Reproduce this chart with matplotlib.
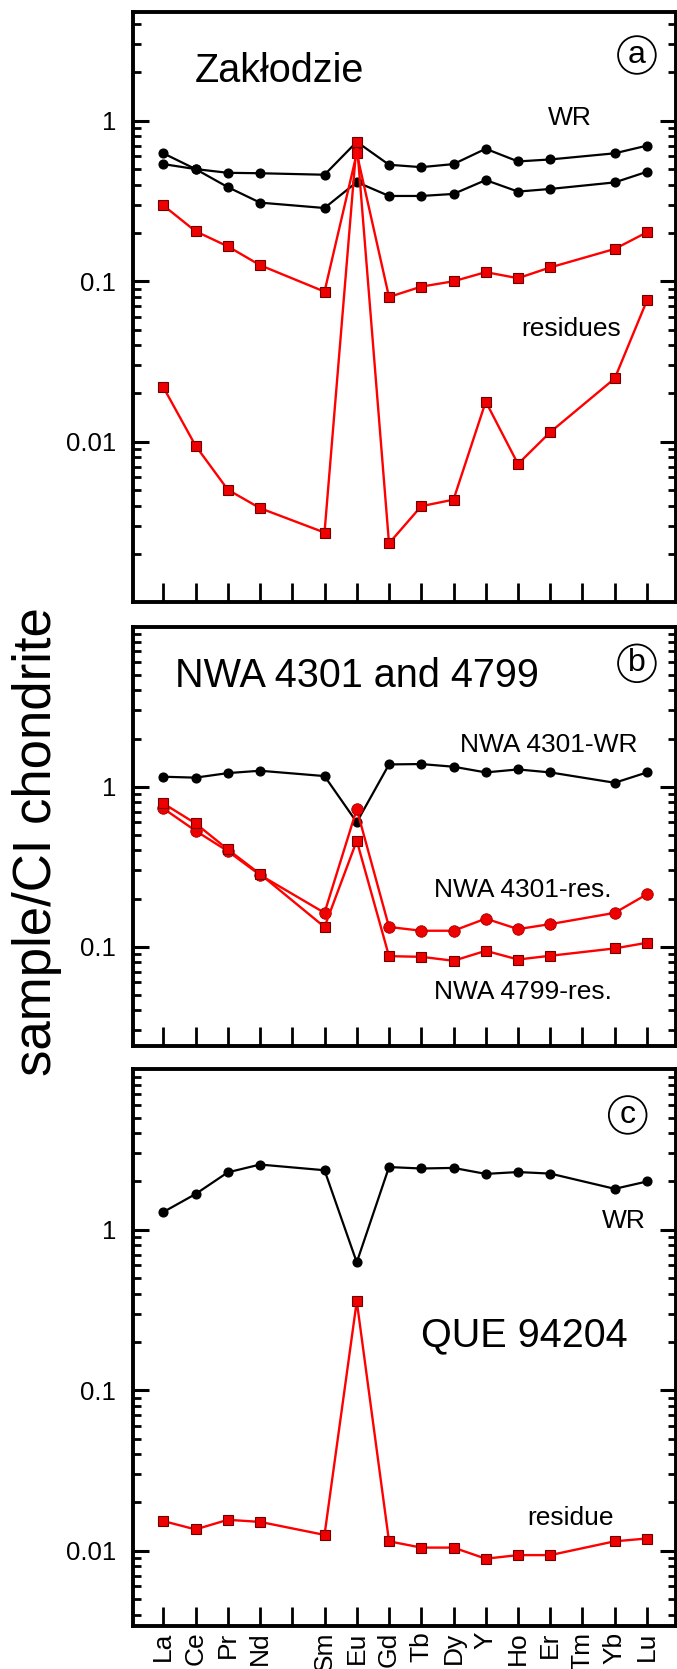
import numpy as np
import matplotlib
matplotlib.use("Agg")
import matplotlib.pyplot as plt
from matplotlib.ticker import LogLocator, NullFormatter, FixedLocator, FixedFormatter

plt.rcParams['font.family'] = ['Liberation Sans', 'DejaVu Sans']

# x axis: REE sequence (Pm left blank, Tm has no data)
tick_labels = ['La', 'Ce', 'Pr', 'Nd', '', 'Sm', 'Eu', 'Gd', 'Tb', 'Dy', 'Y', 'Ho', 'Er', 'Tm', 'Yb', 'Lu']
ree = ['La', 'Ce', 'Pr', 'Nd', 'Sm', 'Eu', 'Gd', 'Tb', 'Dy', 'Y', 'Ho', 'Er', 'Yb', 'Lu']

# (a) Zakłodzie
zak_wr1 = [0.537, 0.50, 0.474, 0.471, 0.461, 0.739, 0.532, 0.514, 0.537, 0.669, 0.558, 0.574, 0.627, 0.70]
zak_wr2 = [0.627, 0.50, 0.386, 0.309, 0.286, 0.415, 0.340, 0.340, 0.350, 0.427, 0.362, 0.376, 0.413, 0.481]
zak_res1 = [0.297, 0.205, 0.165, 0.126, 0.0862, 0.627, 0.0798, 0.0926, 0.100, 0.114, 0.1045, 0.122, 0.159, 0.202]
zak_res2 = [0.0219, 0.00946, 0.00503, 0.00386, 0.00272, 0.739, 0.00233, 0.00397, 0.00436, 0.0178, 0.00727,
            0.01148, 0.0248, 0.0760]

# (b) NWA 4301 and 4799
nwa4301_wr = [1.155, 1.14, 1.217, 1.259, 1.166, 0.60, 1.379, 1.386, 1.334, 1.229, 1.283, 1.229, 1.059, 1.229]
nwa4301_res = [0.732, 0.531, 0.396, 0.281, 0.163, 0.725, 0.133, 0.126, 0.126, 0.150, 0.129, 0.1386, 0.163, 0.213]
nwa4799_res = [0.787, 0.590, 0.406, 0.285, 0.133, 0.460, 0.0874, 0.0866, 0.0818, 0.0944, 0.0833, 0.0879,
               0.0977, 0.106]

# (c) QUE 94204
que_wr = [1.29, 1.67, 2.28, 2.55, 2.35, 0.627, 2.46, 2.41, 2.43, 2.23, 2.29, 2.24, 1.80, 2.0]
que_res = [0.01532, 0.01359, 0.0156, 0.01514, 0.01256, 0.359, 0.01146, 0.01047, 0.01047, 0.00893, 0.0094,
           0.0094, 0.01146, 0.01193]

x = [tick_labels.index(e) for e in ree]

W, H = 677, 1669
fig = plt.figure(figsize=(W / 100, H / 100), dpi=100)

left, right = 133.3, 676.0


def make_axes(top, bottom):
    return fig.add_axes([left / W, 1 - bottom / H, (right - left) / W, (bottom - top) / H])


def style(ax, ylim, yticks, show_x):
    ax.set_yscale('log')
    ax.set_xlim(-0.93, 15.9)
    ax.set_ylim(*ylim)
    ax.yaxis.set_major_locator(FixedLocator(yticks))
    ax.yaxis.set_major_formatter(FixedFormatter([('%g' % t) for t in yticks]))
    ax.yaxis.set_minor_locator(LogLocator(base=10, subs=np.arange(2, 10)))
    ax.yaxis.set_minor_formatter(NullFormatter())
    ax.set_xticks(range(len(tick_labels)))
    if show_x:
        ax.set_xticklabels(tick_labels, rotation=90, fontsize=19, va='top')
    else:
        ax.set_xticklabels([])
    ax.tick_params(axis='y', which='major', direction='in', length=11.5, width=2.2, right=True,
                   labelsize=18.5, pad=12.5)
    ax.tick_params(axis='y', which='minor', direction='in', length=6, width=2.0, right=True)
    ax.tick_params(axis='x', which='major', direction='in', length=13.5, width=2.0, top=False, pad=4)
    for sp in ax.spines.values():
        sp.set_linewidth(2.8)


def black(ax, y):
    ax.plot(x, y, color='black', lw=1.6, marker='o', ms=6.3, mfc='black', mec='black', zorder=3)


def red_sq(ax, y):
    ax.plot(x, y, color='#ff0000', lw=1.7, marker='s', ms=7.3, mfc='#ee0000', mec='#700000', mew=0.8, zorder=4)


def red_ci(ax, y):
    ax.plot(x, y, color='#ff0000', lw=1.7, marker='o', ms=8.3, mfc='#ee0000', mec='#a00000', mew=0.6, zorder=4)


def circled(ax, s, fx, fy):
    ax.text(fx, fy, s, transform=ax.transAxes, fontsize=23, ha='center', va='center',
            bbox=dict(boxstyle='circle,pad=0.12', fc='white', ec='black', lw=1.3))


# panel a
ax1 = make_axes(11.7, 602.3)
style(ax1, (0.001, 4.78), [0.01, 0.1, 1], False)
black(ax1, zak_wr1)
black(ax1, zak_wr2)
red_sq(ax1, zak_res1)
red_sq(ax1, zak_res2)
ax1.text(0.114, 0.8815, 'Zakłodzie', transform=ax1.transAxes, fontsize=28.5, va='baseline')
ax1.text(0.764, 0.808, 'WR', transform=ax1.transAxes, fontsize=19, va='baseline')
ax1.text(0.7144, 0.451, 'residues', transform=ax1.transAxes, fontsize=19, va='baseline')
circled(ax1, 'a', 0.928, 0.9267)

# panel b
ax2 = make_axes(626.7, 1046.0)
style(ax2, (0.024, 10), [0.1, 1], False)
black(ax2, nwa4301_wr)
red_ci(ax2, nwa4301_res)
red_sq(ax2, nwa4799_res)
ax2.text(0.077, 0.857, 'NWA 4301 and 4799', transform=ax2.transAxes, fontsize=28.5, va='baseline')
ax2.text(0.602, 0.701, 'NWA 4301-WR', transform=ax2.transAxes, fontsize=19, va='baseline')
ax2.text(0.554, 0.356, 'NWA 4301-res.', transform=ax2.transAxes, fontsize=19, va='baseline')
ax2.text(0.554, 0.111, 'NWA 4799-res.', transform=ax2.transAxes, fontsize=19, va='baseline')
circled(ax2, 'b', 0.928, 0.9127)

# panel c
ax3 = make_axes(1069.3, 1626.0)
style(ax3, (0.0034, 10), [0.01, 0.1, 1], True)
black(ax3, que_wr)
red_sq(ax3, que_res)
ax3.text(0.530, 0.503, 'QUE 94204', transform=ax3.transAxes, fontsize=28.5, va='baseline')
ax3.text(0.863, 0.715, 'WR', transform=ax3.transAxes, fontsize=19, va='baseline')
ax3.text(0.7264, 0.181, 'residue', transform=ax3.transAxes, fontsize=19, va='baseline')
circled(ax3, 'c', 0.911, 0.918)

fig.text(37 / W, 1 - 842 / H, 'sample/CI chondrite', rotation=90, fontsize=38, ha='center', va='center')

fig.savefig('out.png', dpi=100)
